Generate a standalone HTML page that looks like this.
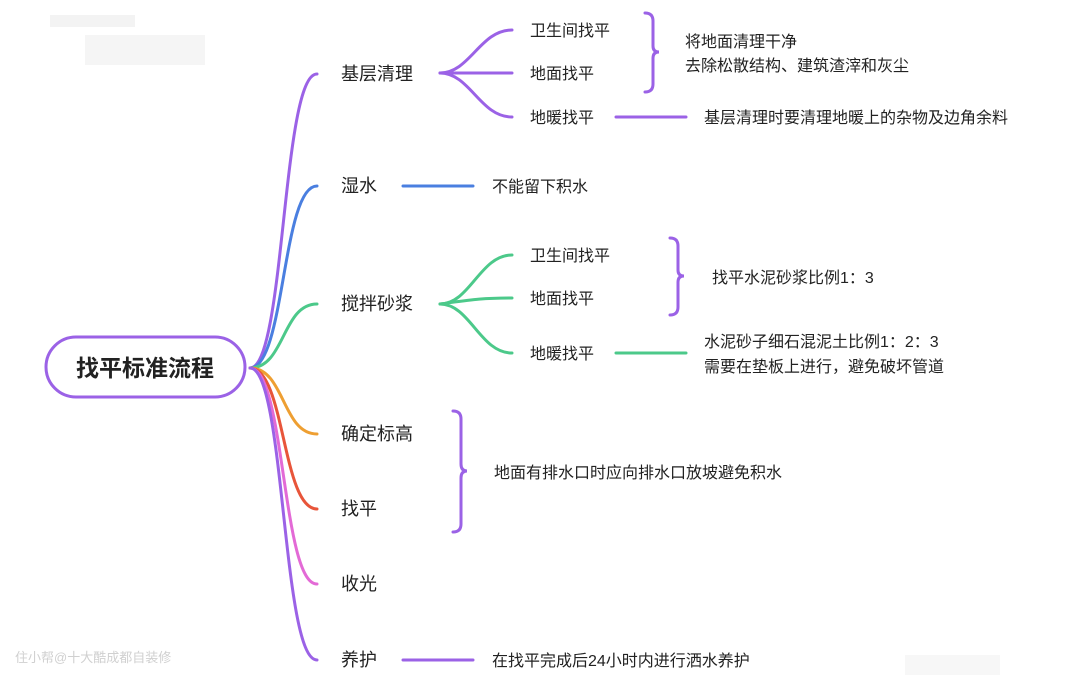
<!DOCTYPE html>
<html><head><meta charset="utf-8"><style>
body{margin:0;background:#fff}
svg{display:block}
text{font-family:"Liberation Sans","Noto Sans CJK SC",sans-serif;fill:#222}
</style></head><body>
<svg width="1080" height="681" viewBox="0 0 1080 681" xmlns="http://www.w3.org/2000/svg">
<g fill="none" stroke-width="3" stroke-linecap="round">
<path d="M250 368 C285 368 282 74 317 74" stroke="#9b62e6"/>
<path d="M250 368 C285 368 282 186 317 186" stroke="#4a7fe0"/>
<path d="M250 368 C285 368 282 304 317 304" stroke="#4cc98a"/>
<path d="M250 368 C285 368 282 434 317 434" stroke="#ee9f32"/>
<path d="M250 368 C285 368 282 509 317 509" stroke="#e8553a"/>
<path d="M250 368 C285 368 282 584 317 584" stroke="#e36ad6"/>
<path d="M250 368 C285 368 282 660 317 660" stroke="#9b62e6"/>
<path d="M440 73 C470 73 480 30 512 30" stroke="#9b62e6"/>
<path d="M440 73 L512 73" stroke="#9b62e6"/>
<path d="M440 73 C470 73 480 117 512 117" stroke="#9b62e6"/>
<path d="M440 304 C470 304 480 255 512 255" stroke="#4cc98a"/>
<path d="M440 304 C470 300 480 298 512 298" stroke="#4cc98a"/>
<path d="M440 304 C470 304 480 353 512 353" stroke="#4cc98a"/>
<path d="M616 117 L686 117" stroke="#9b62e6"/>
<path d="M403 186 L473 186" stroke="#4a7fe0"/>
<path d="M616 353 L686 353" stroke="#4cc98a"/>
<path d="M403 660 L473 660" stroke="#9b62e6"/>
<path d="M645 13 Q653 13 653 21 L653 46 Q653 52 659 52 Q653 52 653 58 L653 84 Q653 92 645 92" stroke="#9b62e6"/>
<path d="M670 238 Q678 238 678 246 L678 270 Q678 276 684 276 Q678 276 678 282 L678 307 Q678 315 670 315" stroke="#9b62e6"/>
<path d="M453 411 Q461 411 461 419 L461 464 Q461 471 467 471 Q461 471 461 478 L461 524 Q461 532 453 532" stroke="#9b62e6"/>
</g>
<rect x="46" y="337" width="199" height="60" rx="30" fill="#fff" stroke="#9b62e6" stroke-width="3"/>
<text x="145" y="376" font-size="23" font-weight="bold" text-anchor="middle" fill="#111">找平标准流程</text>
<g font-size="18">
<text x="341" y="80">基层清理</text>
<text x="341" y="192">湿水</text>
<text x="341" y="310">搅拌砂浆</text>
<text x="341" y="440">确定标高</text>
<text x="341" y="515">找平</text>
<text x="341" y="590">收光</text>
<text x="341" y="666">养护</text>
</g>
<g font-size="16">
<text x="530" y="36">卫生间找平</text>
<text x="530" y="79">地面找平</text>
<text x="530" y="123">地暖找平</text>
<text x="530" y="261">卫生间找平</text>
<text x="530" y="304">地面找平</text>
<text x="530" y="359">地暖找平</text>
<text x="685" y="47">将地面清理干净</text>
<text x="685" y="71">去除松散结构、建筑渣滓和灰尘</text>
<text x="704" y="123">基层清理时要清理地暖上的杂物及边角余料</text>
<text x="492" y="192">不能留下积水</text>
<text x="712" y="283">找平水泥砂浆比例1：3</text>
<text x="704" y="347">水泥砂子细石混泥土比例1：2：3</text>
<text x="704" y="372">需要在垫板上进行，避免破坏管道</text>
<text x="494" y="478">地面有排水口时应向排水口放坡避免积水</text>
<text x="492" y="666">在找平完成后24小时内进行洒水养护</text>
</g>
<text x="15" y="662" font-size="13" style="fill:#d0d0d0">住小帮@十大酷成都自装修</text>
<rect x="50" y="15" width="85" height="12" fill="#f3f3f3"/>
<rect x="85" y="35" width="120" height="30" fill="#f5f5f5"/>
<rect x="905" y="655" width="95" height="20" fill="#f7f7f7"/>
</svg>
</body></html>
